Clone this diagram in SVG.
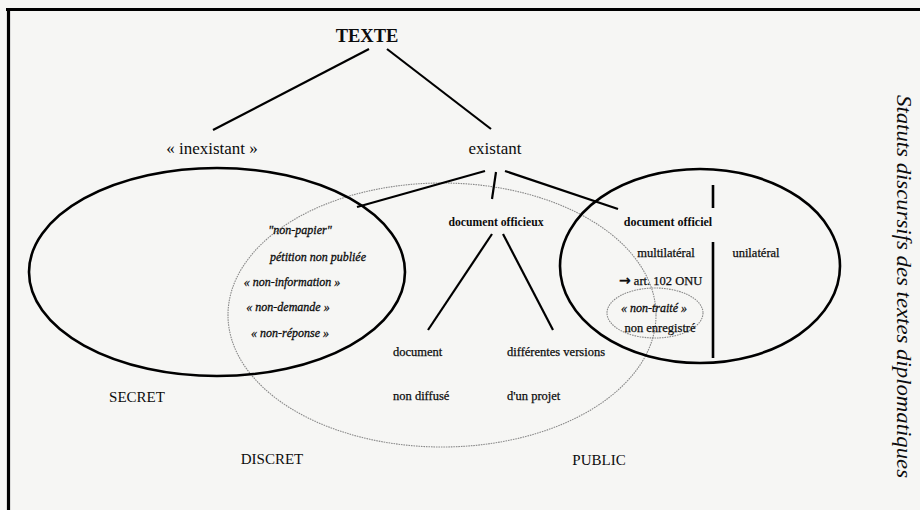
<svg xmlns="http://www.w3.org/2000/svg" width="920" height="510" viewBox="0 0 920 510">
<style>
text{font-family:"Liberation Serif","Times New Roman",serif;fill:#0c0c0c}
.big{font-size:17px}
.b{font-weight:bold}
.s{font-size:12.5px;stroke:#0c0c0c;stroke-width:0.25}
.it{font-style:italic;font-size:12px;stroke:#0c0c0c;stroke-width:0.3}
.cap{font-size:15px}
.c{text-anchor:middle}
.thick{fill:none;stroke:#000;stroke-width:2.6}
.dot{fill:none;stroke:#8a8a8a;stroke-width:1.1;stroke-dasharray:1.6 0.9}
.ln{stroke:#000;stroke-width:2.2;fill:none}
</style>
<rect x="0" y="0" width="920" height="510" fill="#f6f6f4"/>
<g id="frame" stroke="#000" stroke-width="3.2">
<line x1="6" y1="9.5" x2="920" y2="9.5"/>
<line x1="8.5" y1="8" x2="8.5" y2="510"/>
</g>
<g id="zones">
<ellipse id="zone-discret" class="dot" cx="442" cy="315" rx="214" ry="132"/>
<ellipse id="zone-secret" class="thick" cx="217" cy="272" rx="188" ry="104"/>
<ellipse id="zone-officiel" class="thick" cx="700" cy="266" rx="140" ry="97" stroke-width="2.8"/>
<ellipse id="zone-nontraite" class="dot" cx="655" cy="313" rx="48" ry="25"/>
</g>
<g id="connectors" class="ln">
<line x1="369" y1="49" x2="213" y2="130"/>
<line x1="387" y1="49" x2="491" y2="129"/>
<line x1="485" y1="171" x2="357" y2="207"/>
<line x1="496" y1="172" x2="492" y2="199"/>
<line x1="505" y1="171" x2="618" y2="209"/>
<line x1="492" y1="234" x2="428" y2="330"/>
<line x1="503" y1="234" x2="553" y2="330"/>
<line x1="713" y1="185" x2="713" y2="208" stroke-width="2.6"/>
<line x1="713" y1="242" x2="713" y2="358" stroke-width="2.6"/>
</g>
<g id="n-texte"><text class="b c" x="367" y="42" font-size="18.5">TEXTE</text></g>
<g id="n-inexistant"><text class="big c" x="212" y="154">« inexistant »</text></g>
<g id="n-existant"><text class="big c" x="495" y="154">existant</text></g>
<g id="n-secret-items">
<text class="it c" x="300" y="234">"non-papier"</text>
<text class="it c" x="318" y="261">pétition non publiée</text>
<text class="it c" x="292" y="286">« non-information »</text>
<text class="it c" x="288" y="311">« non-demande »</text>
<text class="it c" x="290" y="337">« non-réponse »</text>
</g>
<g id="n-officieux"><text class="b c" x="496" y="226" font-size="11.7">document officieux</text></g>
<g id="n-officiel"><text class="b c" x="668" y="226" font-size="12">document officiel</text></g>
<g id="n-multilateral"><text class="s c" x="666" y="257">multilatéral</text></g>
<g id="n-unilateral"><text class="s c" x="756" y="257">unilatéral</text></g>
<g id="n-art102"><text class="s" x="619" y="285"><tspan font-family="DejaVu Sans" font-weight="bold" font-size="14">→</tspan> art. 102 ONU</text></g>
<g id="n-nontraite"><text class="it c" x="654" y="312">« non-traité »</text></g>
<g id="n-nonenregistre"><text class="s c" x="660" y="332">non enregistré</text></g>
<g id="n-nondiffuse">
<text class="s" x="393" y="356">document</text>
<text class="s" x="393" y="400">non diffusé</text>
</g>
<g id="n-versions">
<text class="s" x="507" y="356">différentes versions</text>
<text class="s" x="507" y="400">d'un projet</text>
</g>
<g id="n-labels">
<text class="cap c" x="137" y="402">SECRET</text>
<text class="cap c" x="272" y="464">DISCRET</text>
<text class="cap c" x="599" y="465">PUBLIC</text>
</g>
<g id="n-title"><text transform="translate(897,95) rotate(90)" font-style="italic" font-size="20" textLength="383" lengthAdjust="spacingAndGlyphs">Statuts discursifs des textes diplomatiques</text></g>
</svg>
